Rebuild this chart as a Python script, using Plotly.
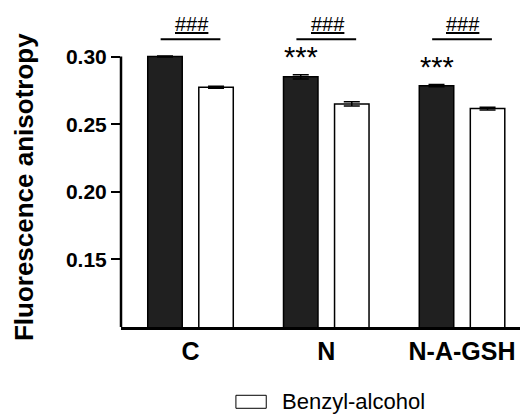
import plotly.graph_objects as go

# Fluorescence anisotropy per treatment group, without / with benzyl alcohol
categories = ["C", "N", "N-A-GSH"]
control_values = [0.300, 0.285, 0.2785]
control_errors = [0.0004, 0.0015, 0.0008]
benzyl_values = [0.2773, 0.2650, 0.2615]
benzyl_errors = [0.0007, 0.0016, 0.0010]
control_stars = ["", "***", "***"]
pair_marks = ["###", "###", "###"]
y_ticks = [0.15, 0.20, 0.25, 0.30]
series_names = ["Control", "Benzyl-alcohol"]

FONT = "Liberation Sans, Arial, Helvetica, sans-serif"
x_pos = list(range(len(categories)))
BAR_W = 0.254
HALF_SEP = 0.188

fig = go.Figure()
fig.add_trace(go.Bar(
    x=x_pos, y=control_values, name=series_names[0],
    width=BAR_W, offset=-HALF_SEP - BAR_W / 2,
    marker=dict(color="#202020", line=dict(color="#000000", width=1.5)),
    error_y=dict(type="data", array=control_errors, visible=True,
                 color="#000000", thickness=1.5, width=8),
    showlegend=False,
))
fig.add_trace(go.Bar(
    x=x_pos, y=benzyl_values, name=series_names[1],
    width=BAR_W, offset=HALF_SEP - BAR_W / 2,
    marker=dict(color="#ffffff", line=dict(color="#000000", width=1.5)),
    error_y=dict(type="data", array=benzyl_errors, visible=True,
                 color="#000000", thickness=1.5, width=8),
    showlegend=False,
))

# y axis line stops at the top tick
fig.add_shape(type="line", xref="paper", yref="y", x0=0, x1=0,
              y0=0.10, y1=y_ticks[-1], line=dict(color="#000000", width=2.5))

# significance marks
for i, cat in enumerate(categories):
    fig.add_shape(type="line", xref="x", yref="y",
                  x0=i - 0.22, x1=i + 0.22, y0=0.3128, y1=0.3128,
                  line=dict(color="#000000", width=2))
    fig.add_annotation(x=i + 0.01, y=0.3128, xref="x", yref="y",
                       text="<u>" + pair_marks[i] + "</u>", showarrow=False,
                       yanchor="bottom", yshift=2,
                       font=dict(family=FONT, size=20, color="#000000"))
    if control_stars[i]:
        fig.add_annotation(x=i - HALF_SEP, y=control_values[i] + control_errors[i],
                           xref="x", yref="y", text=control_stars[i],
                           showarrow=False, yanchor="bottom", yshift=0,
                           font=dict(family=FONT, size=29, color="#000000"))

# y title
fig.add_annotation(xref="paper", yref="paper", x=-0.243, y=0.45,
                   text="<b>Fluorescence anisotropy</b>", textangle=-90,
                   showarrow=False, xanchor="center", yanchor="middle",
                   font=dict(family=FONT, size=26, color="#000000"))

# legend entry for the open bars
fig.add_shape(type="rect", xref="paper", yref="paper",
              x0=0.288, x1=0.364, y0=-0.2614, y1=-0.2196,
              line=dict(color="#000000", width=1), fillcolor="#ffffff")
fig.add_annotation(xref="paper", yref="paper", x=0.3985, y=-0.2405,
                   text=series_names[1], showarrow=False,
                   xanchor="left", yanchor="middle",
                   font=dict(family=FONT, size=22, color="#000000"))

fig.update_layout(
    width=520, height=414,
    margin=dict(l=121, r=0, t=16, b=87),
    paper_bgcolor="#ffffff", plot_bgcolor="#ffffff",
    barmode="overlay",
    xaxis=dict(range=[-0.512, 2.427], tickvals=x_pos, ticktext=categories,
               showgrid=False, zeroline=False, showline=True,
               linecolor="#000000", linewidth=2.5, ticks="",
               tickfont=dict(family=FONT, size=25, color="#000000", weight="bold")),
    yaxis=dict(range=[0.10, 0.33], tickvals=y_ticks,
               ticktext=[f"{v:.2f}" for v in y_ticks],
               showgrid=False, zeroline=False, showline=False,
               ticks="outside", ticklen=9, tickwidth=2, tickcolor="#000000",
               tickfont=dict(family=FONT, size=21, color="#000000", weight="bold")),
)

fig.write_html("out.html")
